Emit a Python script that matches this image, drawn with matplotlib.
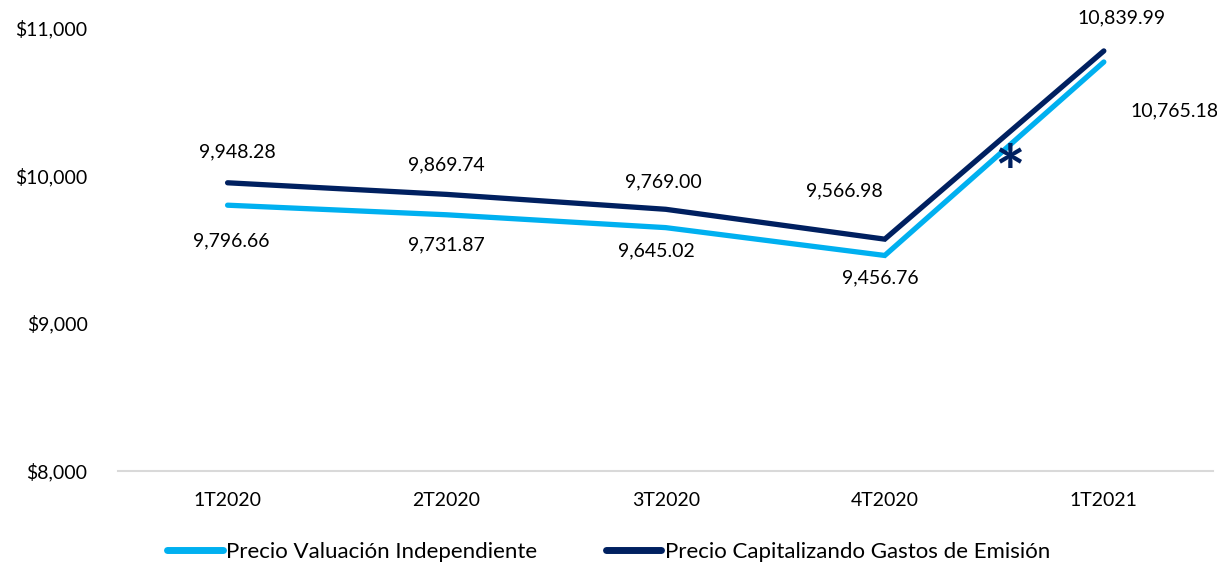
#!/usr/bin/env python3

import matplotlib
matplotlib.use('Agg')
import matplotlib.pyplot as plt
from matplotlib.ticker import FuncFormatter

# Chart data
quarters = ['1T2020', '2T2020', '3T2020', '4T2020', '1T2021']
valuacion = [9796.66, 9731.87, 9645.02, 9456.76, 10765.18]
capitalizando = [9948.28, 9869.74, 9769.00, 9566.98, 10839.99]
yticks = [8000, 9000, 10000, 11000]

light_blue = '#00B0F0'
navy = '#002060'

# label offsets in points (dx, dy) from each point
cap_offsets = [(7, 22), (0, 21), (-2, 20), (-29, 35), (13, 24)]
val_offsets = [(3, -26), (0, -22), (-7, -17), (-3, -16), (51, -35)]


def main():
    plt.rcParams['font.family'] = ['Lato', 'DejaVu Sans']

    fig = plt.figure(figsize=(12.17, 5.68), dpi=100)
    ax = fig.add_axes([0.097, 0.171, 0.9, 0.781])

    xs = list(range(len(quarters)))
    ax.plot(xs, valuacion, color=light_blue, linewidth=3.8,
            solid_capstyle='round', solid_joinstyle='miter',
            label='Precio Valuación Independiente')
    ax.plot(xs, capitalizando, color=navy, linewidth=3.8,
            solid_capstyle='round', solid_joinstyle='miter',
            label='Precio Capitalizando Gastos de Emisión')

    # data labels
    for i, v in enumerate(capitalizando):
        ax.annotate('{:,.2f}'.format(v), xy=(i, v), xytext=cap_offsets[i],
                    textcoords='offset points', ha='center', va='center',
                    fontsize=14, color='black')
    for i, v in enumerate(valuacion):
        ax.annotate('{:,.2f}'.format(v), xy=(i, v), xytext=val_offsets[i],
                    textcoords='offset points', ha='center', va='center',
                    fontsize=14, color='black')

    # asterisk on the 4T2020 -> 1T2021 segment
    ax.text(3.57, 9980, '*', color=navy, fontsize=52, fontweight='bold',
            ha='center', va='center')

    ax.set_xlim(-0.5, len(xs) - 0.5)
    ax.set_ylim(8000, 11000)
    ax.set_xticks(xs)
    ax.set_xticklabels(quarters, fontsize=14)
    ax.set_yticks(yticks)
    ax.yaxis.set_major_formatter(FuncFormatter(lambda v, p: '${:,.0f}'.format(v)))
    for lbl in ax.get_yticklabels():
        lbl.set_fontsize(14)

    for s in ['top', 'right', 'left']:
        ax.spines[s].set_visible(False)
    ax.spines['bottom'].set_color('#D9D9D9')
    ax.spines['bottom'].set_linewidth(1.5)
    ax.tick_params(axis='both', length=0)
    ax.tick_params(axis='x', pad=15)
    ax.tick_params(axis='y', pad=22)

    fig.legend(loc='lower center', bbox_to_anchor=(0.5, -0.025), ncol=2,
               frameon=False, fontsize=16, handlelength=2.5,
               handletextpad=0.15, columnspacing=3.1)
    for h in fig.legends[0].legend_handles:
        h.set_linewidth(5)

    fig.savefig('out.png', dpi=100)


if __name__ == '__main__':
    main()
